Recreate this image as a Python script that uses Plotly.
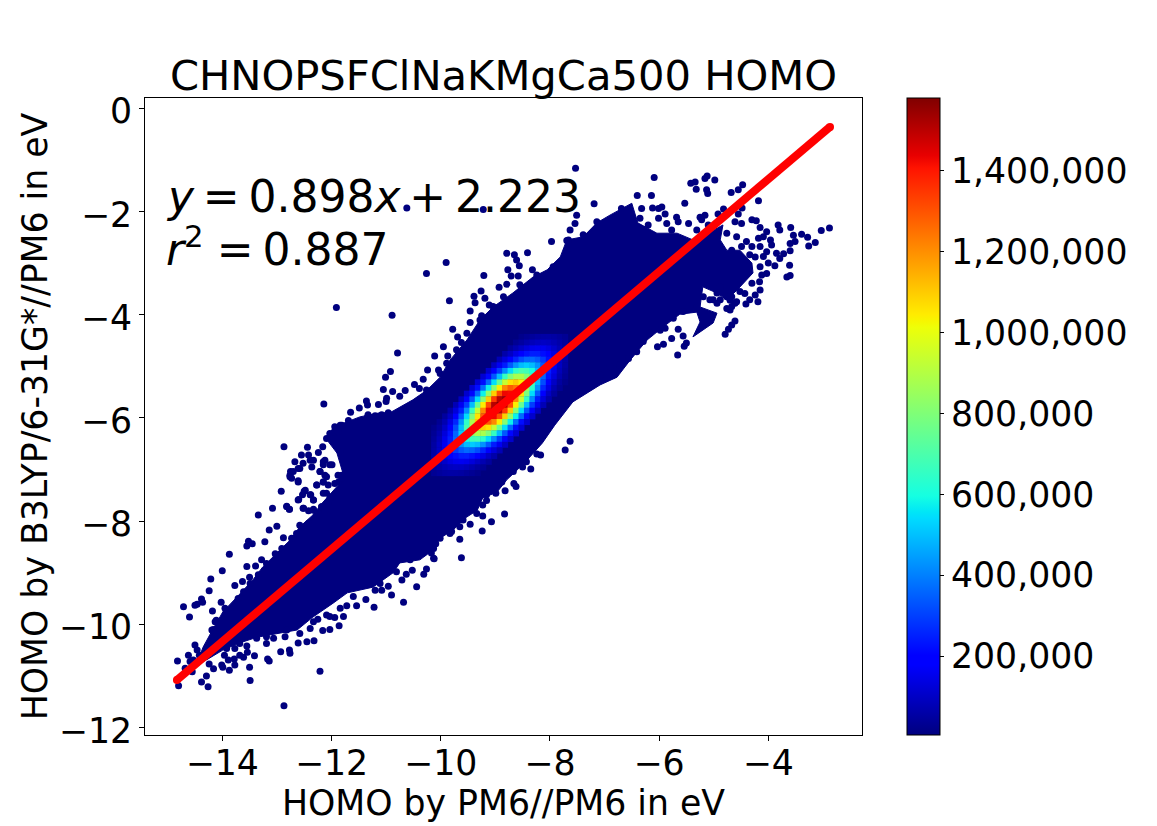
import plotly.graph_objects as go

TITLE = "CHNOPSFClNaKMgCa500 HOMO"
X_LABEL = "HOMO by PM6//PM6 in eV"
Y_LABEL = "HOMO by B3LYP/6-31G*//PM6 in eV"
X_TICKS = [-14, -12, -10, -8, -6, -4]
Y_TICKS = [0, -2, -4, -6, -8, -10, -12]
CBAR_TICKS = [200000, 400000, 600000, 800000, 1000000, 1200000, 1400000]

# outline of the dense cloud
BODY_X = [-14.50,-14.35,-14.18,-13.99,-13.73,-13.44,-13.26,-13.00,-12.76,-12.58,-12.34,-12.17,-12.03,-11.84,-11.79,-11.90,-12.08,-11.97,-11.48,-11.11,-10.93,-10.51,-10.25,-10.01,-9.83,-9.52,-9.28,-9.04,-8.68,-8.31,-8.05,-7.81,-7.69,-7.39,-7.14,-6.90,-6.50,-6.39,-6.04,-5.67,-5.38,-5.07,-4.83,-4.88,-4.76,-4.52,-4.30,-4.28,-4.57,-4.76,-4.94,-5.20,-5.25,-4.94,-5.01,-5.38,-5.25,-5.31,-5.62,-5.76,-5.93,-6.22,-6.53,-6.77,-7.08,-7.58,-7.91,-8.14,-8.42,-8.60,-8.79,-8.97,-9.23,-9.33,-9.55,-9.77,-10.01,-10.14,-10.38,-10.75,-10.87,-11.24,-11.71,-11.97,-12.34,-12.63,-12.94,-13.36,-13.68,-13.99,-14.29]
BODY_Y = [-10.85,-10.44,-10.11,-9.76,-9.47,-9.14,-8.89,-8.62,-8.37,-8.11,-7.88,-7.65,-7.49,-7.26,-7.07,-6.68,-6.43,-6.18,-5.98,-5.90,-5.90,-5.65,-5.46,-5.21,-4.88,-4.49,-4.10,-3.85,-3.58,-3.27,-3.13,-2.88,-2.55,-2.49,-2.22,-2.07,-1.84,-2.22,-2.42,-2.42,-2.55,-2.40,-2.26,-2.55,-2.75,-2.75,-3.00,-3.19,-3.52,-3.71,-3.58,-3.46,-3.85,-3.97,-4.16,-4.43,-4.14,-3.95,-3.99,-4.10,-4.24,-4.49,-4.88,-5.21,-5.36,-5.69,-6.14,-6.49,-6.82,-7.01,-7.20,-7.44,-7.55,-7.79,-7.94,-8.17,-8.33,-8.56,-8.75,-8.81,-9.00,-9.28,-9.39,-9.59,-9.86,-10.11,-10.17,-10.25,-10.36,-10.50,-10.69]

# individually visible points
DOT_X = [-12.87,-12.44,-12.16,-12.55,-12.42,-12.67,-12.33,-12.15,-11.99,-11.84,-12.75,-12.58,-12.21,-12.09,-12.76,-12.61,-11.81,-11.87,-12.15,-12.27,-12.92,-12.50,-12.61,-12.39,-12.33,-12.15,-11.99,-13.08,-13.34,-12.82,-12.77,-12.51,-12.33,-12.18,-13.00,-13.14,-12.58,-12.88,-13.52,-13.55,-13.45,-13.22,-13.87,-13.55,-13.39,-14.00,-14.21,-13.50,-13.77,-13.63,-14.24,-14.38,-14.36,-14.02,-14.71,-14.50,-14.46,-14.18,-13.95,-14.60,-14.11,-14.16,-14.50,-14.46,-14.82,-14.62,-14.59,-14.53,-14.42,-14.68,-14.55,-14.80,-14.38,-14.29,-14.26,-14.24,-14.16,-14.01,-13.99,-13.87,-13.77,-13.89,-13.78,-13.68,-13.61,-13.96,-13.92,-13.77,-13.55,-13.54,-13.41,-13.50,-13.49,-13.17,-13.14,-12.93,-12.77,-12.76,-12.21,-12.87,-13.19,-13.06,-12.61,-12.45,-12.32,-12.85,-12.58,-12.39,-12.16,-12.03,-11.86,-12.25,-12.03,-11.94,-11.78,-11.54,-11.72,-11.37,-11.22,-10.90,-10.68,-10.44,-11.08,-11.20,-10.96,-10.71,-10.63,-10.52,-10.31,-10.26,-10.13,
 -7.53,-10.62,-9.22,-9.90,-10.26,-11.91,-10.89,-10.79,-12.14,-9.21,-8.79,-8.65,-8.61,-8.41,-8.56,-8.77,-8.71,-8.58,-8.32,-8.79,-8.93,-9.26,-9.39,-9.19,-9.84,-9.37,-9.46,-9.11,-9.25,-9.46,-9.78,-9.69,-9.95,-9.62,-10.11,-9.87,-10.24,-10.92,-11.01,-10.04,-10.32,-10.48,-10.65,-11.05,-10.88,-10.39,-10.99,-11.14,-11.36,-10.75,-11.49,-11.65,-11.33,-11.20,-11.69,-11.84,-7.97,-7.63,-7.54,-7.51,-7.69,
 -6.09,-5.42,-5.34,-5.32,-5.16,-5.12,-4.98,-5.13,-5.11,-4.68,-4.55,-4.47,-4.18,-6.40,-6.14,-7.19,-5.53,-6.32,-6.12,-6.01,-5.95,-5.89,-5.68,-5.16,-5.25,-4.82,-4.48,-4.55,-4.92,-4.30,-4.22,-4.15,-4.49,-4.61,-3.82,-3.79,-3.59,-4.03,-2.88,-3.03,-3.28,-3.14,-3.26,-3.54,-3.39,-3.51,-3.60,-3.60,-3.72,-3.85,-3.79,-3.88,-3.61,-3.60,-3.66,-3.96,-3.94,-4.09,-4.18,-4.00,-4.03,-4.12,-4.09,-4.15,-4.24,-4.16,-4.30,-4.15,-4.24,-4.34,-4.41,-4.19,-4.52,-4.43,-4.61,-4.67,-4.73,-4.79,-5.65,-5.56,-5.77,-5.50,-5.54,-6.03,-5.92,-5.66,-5.56,-5.74,-4.61,-4.70,-6.84,
 -7.63,-7.72,-8.35,-8.17,-8.24,-8.50,-8.66,-8.62,-8.82,-8.99,-9.16,-9.23,-8.83,-9.07,-9.24,-9.34,-9.23,-9.46,-9.65,-9.65,-9.83,-10.09,-10.12,-9.62,-10.17,
 -11.34,-11.00,-11.34,-11.08,-10.96,-11.81,-11.94,-11.88,-12.03,-12.09,-12.24,-12.39,-12.12,-12.15,-12.03,-12.52,-12.61,-12.36,-12.70,-12.76,-12.21,-12.12,-11.88,-11.81,-12.73,-12.61,-12.15,-12.06,-11.94,-12.27,-12.48,-12.53,-12.60,-12.38,-12.33,-12.09,-12.03,-12.82,-12.77,-12.52,-12.42,-12.33,-12.18,-12.06,-12.12,-12.27,
 -6.35,-6.20,-6.01,-5.86,-5.77,-5.65,-5.46,-5.31,-5.10,-5.22,-4.76,-4.58,-4.40,-4.30,-4.67,-4.49,-4.34,-4.15,-4.03,-4.94,-4.76,-4.67,-4.58,-5.01,-4.88,-4.67,-5.31,-5.98,-5.89,-6.17,-6.29,-6.41,-6.56,-6.72,-6.90,-7.08,
 -14.19,-14.13,-13.93,-13.77,-13.71,-13.61,-13.49,-13.34,-13.28,-13.19,-13.03,-12.91,-12.73,-12.64,-12.42,-12.27,
 -13.37,-13.19,-12.82,-12.33,-12.09,-11.84,-11.60,-11.11,-10.81,-10.56,-10.32,-10.13,-13.68,-13.92,-14.10,
 -10.26,-10.01,-9.89,-9.71,-9.52,-9.28,-9.04,-8.85,-8.55,-8.24,-7.94,-7.69,
 -8.67,-8.88,-9.16,-9.40,-9.59,-9.80,-10.01,-8.43,-7.14,-6.69,-7.39,-7.66,
 -4.94,-4.76,-5.07,-5.19,-4.88,-4.70]
DOT_Y = [-6.56,-6.57,-6.56,-6.72,-6.72,-6.85,-6.82,-6.85,-6.91,-6.65,-7.04,-6.98,-7.04,-7.14,-7.14,-7.24,-7.11,-7.24,-7.24,-7.30,-7.42,-7.42,-7.59,-7.49,-7.59,-7.46,-7.53,-7.75,-7.88,-7.72,-7.77,-7.75,-7.79,-7.72,-8.10,-8.17,-8.08,-8.32,-8.39,-8.48,-8.44,-8.40,-8.64,-8.88,-8.87,-8.96,-9.12,-9.09,-9.25,-9.17,-9.35,-9.51,-9.57,-9.57,-9.66,-9.63,-9.61,-9.74,-9.69,-9.86,-9.92,-10.10,-10.40,-10.50,-10.71,-10.60,-10.72,-10.69,-10.60,-10.85,-10.92,-11.19,-11.12,-11.00,-11.21,-10.77,-10.86,-10.79,-10.83,-10.89,-10.79,-10.69,-10.67,-10.60,-10.64,-10.60,-10.47,-10.47,-10.42,-10.54,-10.61,-10.83,-11.09,-10.67,-10.71,-10.53,-10.50,-10.56,-10.91,-11.58,-10.37,-10.27,-10.36,-10.34,-10.32,-10.24,-10.18,-10.08,-10.12,-10.10,-10.03,-9.90,-9.85,-9.87,-9.85,-9.64,-9.64,-9.52,-9.67,-9.43,-9.57,-9.27,-9.34,-9.34,-9.26,-9.14,-9.03,-8.95,-9.03,-8.93,-8.72,
 -1.16,-1.93,-1.96,-2.99,-3.20,-3.86,-4.01,-4.74,-5.73,-3.24,-2.81,-2.84,-2.94,-2.80,-3.05,-3.13,-3.25,-3.25,-3.13,-3.41,-3.47,-3.54,-3.64,-3.68,-3.73,-3.77,-3.93,-3.81,-4.02,-4.15,-4.28,-4.43,-4.62,-4.54,-4.80,-4.80,-5.07,-5.10,-5.21,-5.07,-5.25,-5.35,-5.47,-5.45,-5.49,-5.43,-5.62,-5.74,-5.67,-5.58,-5.81,-5.89,-5.94,-5.96,-6.05,-6.14,-2.58,-2.36,-2.23,-2.07,-2.56,
 -1.34,-1.45,-1.43,-1.57,-1.36,-1.31,-1.39,-1.58,-1.65,-1.63,-1.58,-1.48,-1.79,-1.69,-1.69,-1.85,-1.84,-1.94,-1.93,-1.94,-1.91,-2.05,-2.11,-2.07,-2.11,-1.95,-1.93,-2.05,-2.05,-2.16,-2.18,-2.31,-2.23,-2.20,-2.26,-2.36,-2.31,-2.39,-2.32,-2.37,-2.50,-2.60,-2.67,-2.46,-2.44,-2.58,-2.62,-2.76,-2.82,-2.81,-2.91,-3.05,-3.04,-3.24,-3.27,-2.55,-2.65,-2.49,-2.52,-3.00,-3.20,-3.23,-2.87,-3.07,-2.88,-3.36,-3.39,-3.52,-3.62,-3.71,-3.79,-3.75,-3.55,-3.59,-4.12,-4.20,-4.28,-4.38,-4.28,-4.41,-4.46,-4.55,-4.61,-4.62,-4.57,-4.78,-3.94,-4.07,-3.78,-3.91,-5.17,
 -6.45,-6.62,-6.99,-6.72,-6.70,-6.95,-7.27,-7.33,-7.41,-7.46,-7.60,-7.69,-7.86,-8.01,-8.19,-7.85,-7.90,-8.06,-8.11,-8.35,-8.24,-8.44,-8.73,-8.71,-8.62,
 -5.75,-5.68,-5.98,-5.94,-5.90,-6.14,-6.17,-6.27,-6.30,-6.40,-6.67,-6.82,-6.82,-6.91,-6.91,-6.88,-6.98,-6.95,-7.04,-7.11,-7.04,-7.11,-7.11,-7.17,-7.17,-7.22,-7.24,-7.30,-7.27,-7.30,-7.40,-7.49,-7.58,-7.49,-7.59,-7.46,-7.56,-7.71,-7.77,-7.75,-7.80,-7.77,-7.72,-7.66,-7.79,-7.91,
 -2.13,-2.26,-2.13,-2.23,-2.36,-2.20,-2.23,-2.36,-2.26,-2.16,-2.42,-2.49,-2.58,-2.68,-2.75,-2.68,-2.84,-2.68,-2.78,-3.78,-3.88,-3.84,-3.75,-3.71,-3.71,-3.65,-3.84,-4.30,-4.26,-4.36,-4.52,-4.72,-4.85,-4.97,-5.01,-5.17,
 -10.11,-9.95,-9.78,-9.66,-9.50,-9.37,-9.21,-9.04,-8.75,-8.82,-8.63,-8.53,-8.33,-8.24,-8.04,-7.88,
 -10.27,-10.24,-10.11,-9.95,-9.82,-9.69,-9.46,-9.21,-8.98,-8.75,-8.62,-8.53,-10.37,-10.34,-10.37,
 -5.46,-5.14,-4.94,-4.68,-4.36,-4.10,-3.84,-3.65,-3.42,-3.23,-3.07,-2.75,
 -7.04,-7.24,-7.49,-7.78,-7.98,-8.20,-8.33,-6.85,-2.20,-1.94,-2.45,-2.55,
 -3.58,-3.65,-3.71,-3.65,-3.46,-3.72]

# dense centre: counts in thousands, one list per row from the top
GRID_X = [-10.12,-10.02,-9.92,-9.82,-9.72,-9.62,-9.52,-9.42,-9.32,-9.22,-9.12,-9.02,-8.92,-8.82,-8.72,-8.62,-8.52,-8.42,-8.32,-8.22,-8.12,-8.02,-7.92,-7.82,-7.72]
GRID_Y = [-4.43,-4.54,-4.65,-4.76,-4.87,-4.98,-5.09,-5.20,-5.31,-5.42,-5.53,-5.64,-5.75,-5.86,-5.97,-6.08,-6.19,-6.30,-6.41,-6.52,-6.63,-6.74,-6.85,-6.96,-7.07]
ROW_FIRST_COL = [16,15,14,13,12,11,10,9,8,7,6,5,4,3,2,1,0,0,0,0,0,0,0,0,0]
ROW_COUNTS = [
 [22,33,43,52,57,58,54,44,33],
 [33,50,68,85,96,99,93,80,63,44],
 [47,72,101,130,152,161,155,137,109,80,54],
 [63,99,143,188,226,246,245,221,182,137,93,58],
 [80,130,192,259,319,357,365,338,288,221,155,99,57],
 [96,161,244,339,427,492,516,492,428,338,245,161,96,52],
 [110,189,294,419,544,643,690,677,605,492,365,246,152,85,43],
 [119,210,336,492,656,795,879,884,811,677,516,357,226,130,68,33],
 [122,221,364,547,749,934,1059,1094,1032,884,690,492,319,188,101,50,22],
 [119,221,374,577,811,1039,1210,1285,1243,1094,879,643,427,259,143,72,33],
 [110,210,364,577,833,1095,1311,1429,1420,1285,1059,795,544,339,192,99,47],
 [96,189,336,547,811,1095,1346,1506,1539,1429,1210,934,656,419,244,130,63],
 [80,161,294,492,749,1039,1311,1506,1580,1506,1311,1039,749,492,294,161,80],
 [63,130,244,419,656,934,1210,1429,1539,1506,1346,1095,811,547,336,189,96],
 [47,99,192,339,544,795,1059,1285,1420,1429,1311,1095,833,577,364,210,110],
 [33,72,143,259,427,643,879,1094,1243,1285,1210,1039,811,577,374,221,119],
 [22,50,101,188,319,492,690,884,1032,1094,1059,934,749,547,364,221,122],
 [33,68,130,226,357,516,677,811,884,879,795,656,492,336,210,119],
 [43,85,152,246,365,492,605,677,690,643,544,419,294,189,110],
 [52,96,161,245,338,428,492,516,492,427,339,244,161,96],
 [57,99,155,221,288,338,365,357,319,259,192,130,80],
 [58,93,137,182,221,245,246,226,188,143,99,63],
 [54,80,109,137,155,161,152,130,101,72,47],
 [44,63,80,93,99,96,85,68,50,33],
 [33,44,54,58,57,52,43,33,22],
]

FIT_X = [-14.83, -2.87]
FIT_Y = [-11.08, -0.36]

JET = [[0,"rgb(0,0,127)"],[0.11,"rgb(0,0,255)"],[0.125,"rgb(0,0,255)"],[0.34,"rgb(0,219,255)"],
       [0.35,"rgb(0,230,247)"],[0.375,"rgb(21,255,226)"],[0.64,"rgb(238,255,8)"],[0.65,"rgb(247,246,0)"],
       [0.66,"rgb(255,236,0)"],[0.89,"rgb(255,19,0)"],[0.91,"rgb(232,0,0)"],[1,"rgb(128,0,0)"]]
NAVY = "rgb(0,0,127)"
FONT = "DejaVu Sans"

cx, cy, cz = [], [], []
for y, first, counts in zip(GRID_Y, ROW_FIRST_COL, ROW_COUNTS):
    for k, c in enumerate(counts):
        cx.append(GRID_X[first + k]); cy.append(y); cz.append(c * 1000)

fig = go.Figure()
fig.add_trace(go.Scatter(x=BODY_X, y=BODY_Y, mode="lines", fill="toself", fillcolor=NAVY,
                         line=dict(color=NAVY, width=1), hoverinfo="skip"))
fig.add_trace(go.Scatter(x=DOT_X, y=DOT_Y, mode="markers", marker=dict(color=NAVY, size=7)))
fig.add_trace(go.Scatter(x=cx, y=cy, mode="markers",
    marker=dict(symbol="square", size=6, color=cz, cmin=5000, cmax=1580000, colorscale=JET,
                line=dict(width=0),
                colorbar=dict(x=1.0628, xanchor="left", xpad=0, y=0.5, yanchor="middle", len=1, lenmode="fraction",
                              ypad=0, thickness=33, thicknessmode="pixels", outlinecolor="black", outlinewidth=1,
                              tickvals=CBAR_TICKS, tickformat=",", ticks="outside", ticklen=4, tickwidth=1,
                              tickcolor="black", tickfont=dict(family=FONT, size=34.7, color="black")))))
fig.add_trace(go.Scatter(x=FIT_X, y=FIT_Y, mode="lines+markers", line=dict(color="#ff0000", width=8),
                         marker=dict(color="#ff0000", size=8)))

axis = dict(showline=True, mirror=True, linecolor="black", linewidth=1, ticks="outside", ticklen=5, tickwidth=1,
            tickcolor="black", showgrid=False, zeroline=False,
            tickfont=dict(family=FONT, size=34.7, color="black"))
fig.update_layout(
    width=1149, height=818, autosize=False, showlegend=False, paper_bgcolor="white", plot_bgcolor="white",
    margin=dict(l=137, r=295, t=90, b=91),
    font=dict(family=FONT, color="black"),
    title=dict(text=TITLE, x=0.4312, xanchor="center", y=0.917, yanchor="middle", font=dict(family=FONT, size=41.67, color="black")),
    xaxis=dict(axis, range=[-15.415, -2.284], tickvals=X_TICKS, ticklabelstandoff=-8,
               title=dict(text=X_LABEL, font=dict(family=FONT, size=34.7, color="black"), standoff=2)),
    yaxis=dict(axis, range=[-12.145, 0.2], tickvals=Y_TICKS, ticklabelshift=3,
               title=dict(text=Y_LABEL, font=dict(family=FONT, size=34.7, color="black"), standoff=0)),
    annotations=[
        dict(x=-15.07, y=-1.70, xref="x", yref="y", xanchor="left", yanchor="middle", showarrow=False,
             text="<i>y</i>\u2009=\u20090.898<i>x</i>\u2009+\u20092.223", font=dict(family=FONT, size=44, color="black")),
        dict(x=-15.07, y=-2.68, xref="x", yref="y", xanchor="left", yanchor="middle", showarrow=False,
             text="<i>r</i><sup>2</sup>\u2009\u200a=\u20090.887", font=dict(family=FONT, size=44, color="black")),
    ],
)
fig.write_html("out.html")
